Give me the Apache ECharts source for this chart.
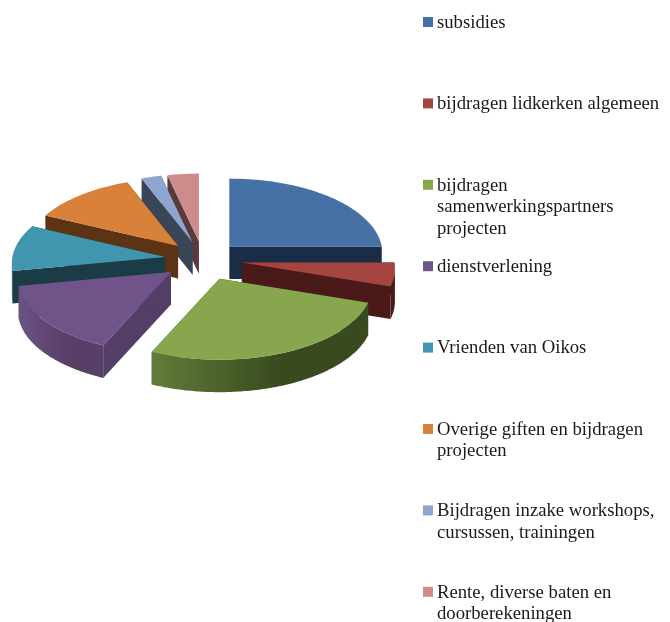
<!DOCTYPE html>
<html>
<head>
<meta charset="utf-8">
<style>
  html, body { margin: 0; padding: 0; background: #fff; }
  #chart { width: 670px; height: 622px; }
</style>
<script src="https://cdn.jsdelivr.net/npm/echarts@6/dist/echarts.min.js"></script>
</head>
<body>
<div id="chart"></div>
<script>
const categories = [
  'subsidies',
  'bijdragen lidkerken algemeen',
  'bijdragen\nsamenwerkingspartners\nprojecten',
  'dienstverlening',
  'Vrienden van Oikos',
  'Overige giften en bijdragen\nprojecten',
  'Bijdragen inzake workshops,\ncursussen, trainingen',
  'Rente, diverse baten en\ndoorberekeningen'
];
const values = [23.6, 5.2, 28.5, 16.1, 9.9, 11.3, 2.1, 3.3];

// slices further back are painted first so the front ones cover their walls
const drawOrder = [7, 6, 0, 5, 4, 1, 3, 2];

const topColors = ['#4571a7', '#a54441', '#88a64d', '#705389', '#4096ae', '#d8813a', '#8ea5cf', '#cd8c8b'];
const cutColors = ['#1a2d47', '#4a1a18', '#3f5022', '#533f65', '#1a3c47', '#5c3414', '#3a4558', '#5a3a3a'];
const arcLight = ['#1a2d47', '#4a1a18', '#637b3a', '#6a5283', '#1a3c47', '#5c3414', '#3a4558', '#5a3a3a'];
const arcDark = ['#1a2d47', '#4a1a18', '#384a1e', '#583f68', '#1a3c47', '#5c3414', '#3a4558', '#5a3a3a'];

const cx = 203, cy = 261;  // pie centre before explosion
const rx = 153, ry = 74.5; // tilted disc
const discDrop = 6.5;      // perspective: the disc's middle sits below the point where the slices meet
const depth = 32.5;
const explode = 39;

const total = values.reduce((a, b) => a + b, 0);
const startAngles = [];
values.reduce((acc, v, i) => {
  startAngles[i] = acc;
  return acc + v / total * Math.PI * 2;
}, 0);

function renderSlice(params, api) {
  const i = api.value(0);
  const a0 = startAngles[i];
  const a1 = a0 + api.value(1) / total * Math.PI * 2;
  const mid = (a0 + a1) / 2;
  const ox = cx + explode * Math.sin(mid);
  const oy = cy - explode * 0.5 * Math.cos(mid);

  const at = t => [ox + rx * Math.sin(t), oy + discDrop - ry * Math.cos(t)];
  const down = p => [p[0], p[1] + depth];

  const steps = Math.max(2, Math.ceil((a1 - a0) / 0.015));
  const arc = [];
  for (let s = 0; s <= steps; s++) arc.push(at(a0 + (a1 - a0) * s / steps));

  const apex = [ox, oy];
  const cut = (p) => ({
    type: 'polygon',
    shape: { points: [apex, p, down(p), down(apex)] },
    style: { fill: cutColors[i] }
  });

  const children = [cut(arc[0]), cut(arc[arc.length - 1])];

  // outer wall, only where the rim faces the viewer
  const front = arc.filter((p, s) => Math.cos(a0 + (a1 - a0) * s / steps) <= 0.01);
  if (front.length > 1) {
    children.push({
      type: 'polygon',
      shape: { points: front.concat(front.map(down).reverse()) },
      style: {
        fill: new echarts.graphic.LinearGradient(0, 0, 1, 0, [
          { offset: 0, color: arcLight[i] },
          { offset: 0.6, color: arcDark[i] },
          { offset: 1, color: arcDark[i] }
        ])
      }
    });
  }

  children.push({
    type: 'polygon',
    shape: { points: [apex].concat(arc) },
    style: { fill: topColors[i] }
  });

  return { type: 'group', children };
}

const legendX = 423, legendFirstY = 22, legendStep = 81.4;
const legendItems = categories.map((name, i) => {
  const y = legendFirstY + legendStep * i;
  return {
    type: 'group',
    children: [
      { type: 'rect', shape: { x: legendX, y: y - 5, width: 10, height: 10 }, style: { fill: topColors[i] } },
      {
        type: 'text',
        x: legendX + 14,
        y: y - 10,
        style: {
          text: name,
          fill: '#1a1a1a',
          font: '18.7px "Liberation Serif"',
          lineHeight: 21.6,
          verticalAlign: 'top'
        }
      }
    ]
  };
});

const chart = echarts.init(document.getElementById('chart'), null, { renderer: 'canvas' });
chart.setOption({
  animation: false,
  backgroundColor: '#ffffff',
  graphic: legendItems,
  series: [{
    type: 'custom',
    coordinateSystem: 'none',
    renderItem: renderSlice,
    silent: true,
    data: drawOrder.map(i => [i, values[i]])
  }]
});
</script>
</body>
</html>
